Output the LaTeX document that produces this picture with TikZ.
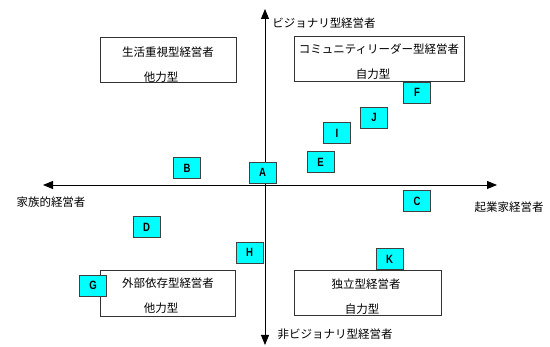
\documentclass[tikz,border=0pt]{standalone}
\usepackage{fontspec}
\newfontfamily\jp{Noto Sans CJK JP}
\newfontfamily\lab{Liberation Sans}[FakeStretch=0.8]
\usetikzlibrary{arrows.meta}
\definecolor{boxcyan}{HTML}{00FFFF}
\definecolor{boxedge}{HTML}{404040}
\tikzset{
  axis/.style={line width=0.9pt,-{Triangle[length=10pt,width=8pt]}},
  quad/.style={draw=black!80,line width=0.8pt,fill=white},
  jtext/.style={font=\jp\fontsize{11.5}{12}\selectfont,inner sep=0pt},
  pt/.style={draw=boxedge,line width=0.9pt,fill=boxcyan,minimum width=27pt,minimum height=21pt,inner sep=0pt,font=\lab\bfseries\fontsize{12}{12}\selectfont},
}
\begin{document}
\begin{tikzpicture}[x=1pt,y=-1pt]
\useasboundingbox (0,0) rectangle (550,347);
% axes
\coordinate (top) at (265,9);
\coordinate (bottom) at (265,345);
\coordinate (left) at (43,185);
\coordinate (right) at (497,185);
\coordinate (center) at (265,185);
\draw[axis] (center) -- (top);
\draw[axis] (center) -- (bottom);
\draw[axis] (center) -- (left);
\draw[axis] (center) -- (right);
% axis labels
\node[jtext] (lt) at (324,23) {ビジョナリ型経営者};
\node[jtext] (lb) at (335,334) {非ビジョナリ型経営者};
\node[jtext] (ll) at (51,202) {家族的経営者};
\node[jtext] (lr) at (509,207) {起業家経営者};
% quadrant boxes
\draw[quad] (100,37) rectangle (236,82);
\node[jtext] (q1a) at (168,52) {生活重視型経営者};
\node[jtext] (q1b) at (161,77) {他力型};
\draw[quad] (294,36) rectangle (464,81);
\node[jtext] (q2a) at (379,49) {コミュニティリーダー型経営者};
\node[jtext] (q2b) at (373,74) {自力型};
\draw[quad] (100,270) rectangle (235,316);
\node[jtext] (q3a) at (168,283) {外部依存型経営者};
\node[jtext] (q3b) at (161,308) {他力型};
\draw[quad] (294,270) rectangle (441,315);
\node[jtext] (q4a) at (366,284) {独立型経営者};
\node[jtext] (q4b) at (362,309) {自力型};
% points
\node[pt] (A) at (262.5,172.5) {A};
\node[pt] (B) at (187,168) {B};
\node[pt] (F) at (417,92.5) {F};
\node[pt] (J) at (374,117.5) {J};
\node[pt] (I) at (337,133) {I};
\node[pt] (E) at (320.5,162) {E};
\node[pt] (D) at (146.5,227) {D};
\node[pt] (H) at (249.5,252.5) {H};
\node[pt] (G) at (93,285.5) {G};
\node[pt] (C) at (417,201) {C};
\node[pt] (K) at (389.5,259) {K};
\end{tikzpicture}
\end{document}
